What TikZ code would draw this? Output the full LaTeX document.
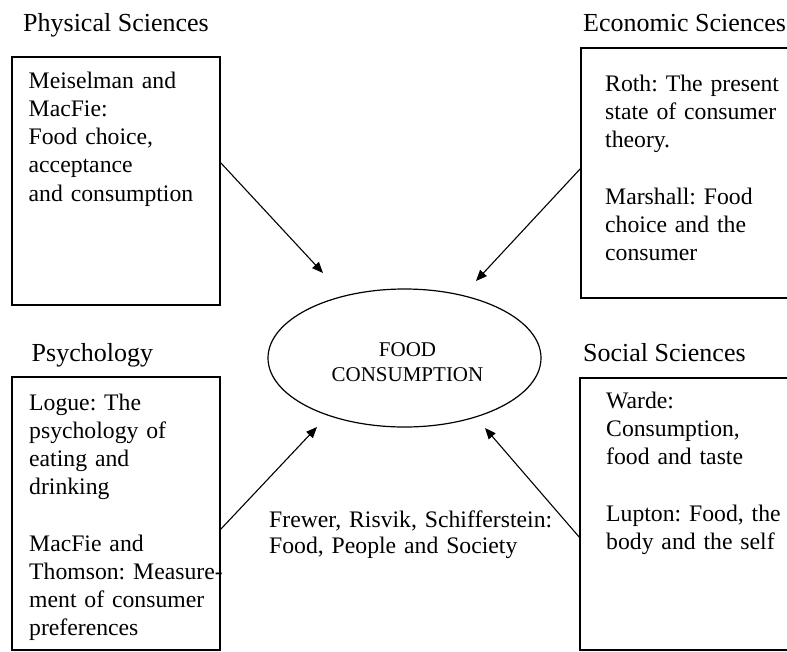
\documentclass[tikz,border=0pt]{standalone}
\usepackage{fontspec}
\setmainfont{Liberation Serif}
\usetikzlibrary{shapes.geometric,arrows.meta}
\frenchspacing
\begin{document}
\begin{tikzpicture}[x=1pt,y=-1pt,
  box/.style={draw,line width=1.3pt,rectangle,anchor=north west,inner sep=0pt,outer sep=0pt},
  titletext/.style={anchor=base west,inner sep=0pt,font=\fontsize{26}{31}\selectfont},
  btext/.style={anchor=base west,inner sep=0pt,text width=205pt,align=left,font=\frenchspacing\fontsize{23.7}{28.2}\selectfont},
  arr/.style={line width=1.1pt,-{Triangle[length=11pt,width=9pt]}}]
\useasboundingbox (0,0) rectangle (787,651);
\clip (0,0) rectangle (787,651);
% boxes
\node[box,minimum width=208pt,minimum height=248pt] (b1) at (12,57) {};
\node[box,minimum width=240pt,minimum height=250pt] (b2) at (581,48) {};
\node[box,minimum width=208pt,minimum height=273pt] (b3) at (12,377) {};
\node[box,minimum width=240pt,minimum height=272pt] (b4) at (580,378) {};
% titles
\node[titletext] (h1) at (23,31) {Physical Sciences};
\node[titletext] (h2) at (583,31.5) {Economic Sciences};
\node[titletext] (h3) at (31.5,361) {Psychology};
\node[titletext] (h4) at (583,361) {Social Sciences};
% box texts
\node[btext] (x1) at (28.5,88.3) {Meiselman and\\MacFie:\\Food choice,\\acceptance\\and consumption};
\node[btext] (x2) at (605,91.5) {Roth: The present\\state of consumer\\theory.\\[28.2pt]Marshall: Food\\choice and the\\consumer};
\node[btext] (x3) at (29,410) {Logue: The\\psychology of\\eating and\\drinking\\[28.2pt]MacFie and\\Thomson: Measure-\\ment of consumer\\preferences};
\node[btext] (x4) at (606,408.5) {Warde:\\Consumption,\\food and taste\\[28.2pt]Lupton: Food, the\\body and the self};
% centre
\node[draw,ellipse,line width=1.2pt,minimum width=273pt,minimum height=138pt,inner sep=0pt] (fc) at (404.5,358) {};
\node[anchor=base,inner sep=0pt,text width=200pt,align=center,font=\fontsize{21}{25}\selectfont] (fct) at (407.5,356) {FOOD\\CONSUMPTION};
\node[anchor=base west,inner sep=0pt,text width=300pt,align=left,font=\frenchspacing\fontsize{23.7}{26.5}\selectfont] (fr) at (269,527) {Frewer, Risvik, Schifferstein:\\Food, People and Society};
% arrows
\coordinate (s1) at (220,162);
\coordinate (t1) at (323,273);
\coordinate (s2) at (581,168);
\coordinate (t2) at (476,281);
\coordinate (s3) at (220,530);
\coordinate (t3) at (317,427);
\coordinate (s4) at (580,538);
\coordinate (t4) at (485,428);
\draw[arr] (s1) -- (t1);
\draw[arr] (s2) -- (t2);
\draw[arr] (s3) -- (t3);
\draw[arr] (s4) -- (t4);
\end{tikzpicture}
\end{document}
